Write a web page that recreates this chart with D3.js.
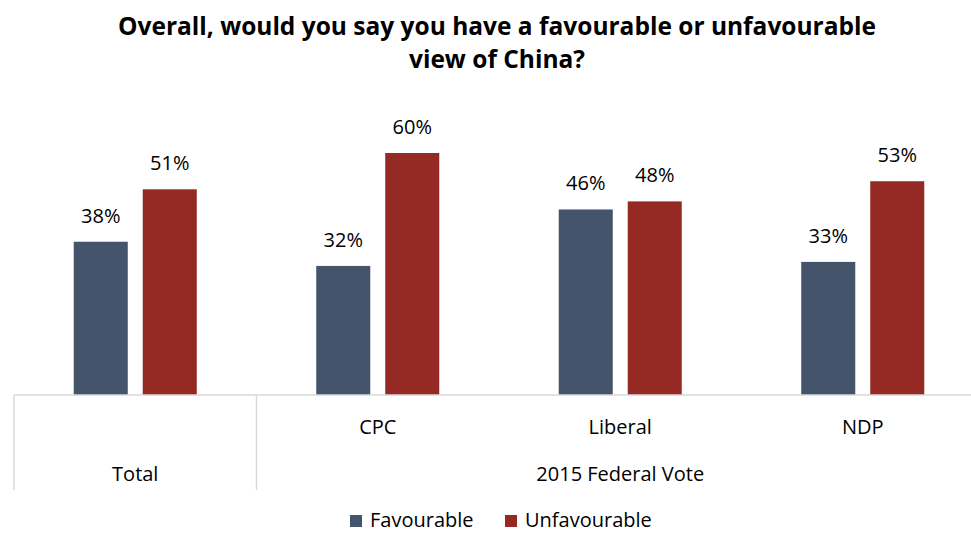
<!DOCTYPE html>
<html>
<head>
<meta charset="utf-8">
<script src="https://cdn.jsdelivr.net/npm/d3@7"></script>
<style>
  html, body { margin: 0; padding: 0; background: #fff; }
  svg { display: block; font-family: "Open Sans", "Noto Sans", sans-serif; }
</style>
</head>
<body>
<svg id="chart" width="971" height="533"></svg>
<script>
// Survey results: favourable vs unfavourable view of China, overall and by 2015 federal vote
const categories = ["Total", "CPC", "Liberal", "NDP"];
const seriesNames = ["Favourable", "Unfavourable"];
const favourable = [38, 32, 46, 33];
const unfavourable = [51, 60, 48, 53];
const groupLabels = [{ label: "Total", from: 0, to: 0 }, { label: "2015 Federal Vote", from: 1, to: 3 }];
const colors = ["#44546a", "#952923"];

const svg = d3.select("#chart");
const W = 971, H = 533;
const left = 14, right = 984, baseY = 395, topY = 153;

const x0 = d3.scaleBand().domain(categories).range([left, right]).paddingInner(0).paddingOuter(0);
const x1 = d3.scaleBand().domain(seriesNames).range([0, x0.bandwidth()]).paddingInner(0.217).paddingOuter(0.866);
const y = d3.scaleLinear().domain([0, 60]).range([baseY, topY]);

// Title
const title = svg.append("text")
  .attr("text-anchor", "middle")
  .attr("font-weight", "bold").attr("font-size", 24.5).attr("fill", "#000");
title.append("tspan").attr("x", 497).attr("y", 35).text("Overall, would you say you have a favourable or unfavourable");
title.append("tspan").attr("x", 497).attr("y", 68).text("view of China?");

// Bars
const rows = categories.map((c, i) => ({ cat: c, values: [favourable[i], unfavourable[i]] }));
const groups = svg.append("g").selectAll("g").data(rows).join("g")
  .attr("transform", d => `translate(${x0(d.cat)},0)`);

const cells = d => d.values.map((v, j) => ({ s: seriesNames[j], v, j }));

groups.selectAll("rect").data(cells)
  .join("rect")
  .attr("x", d => x1(d.s))
  .attr("width", x1.bandwidth())
  .attr("y", d => y(d.v))
  .attr("height", d => baseY - y(d.v))
  .attr("fill", d => colors[d.j]);

groups.selectAll("text.val").data(cells)
  .join("text").attr("class", "val")
  .attr("x", d => x1(d.s) + x1.bandwidth() / 2)
  .attr("y", d => y(d.v) - 19)
  .attr("text-anchor", "middle")
  .attr("font-size", 20).attr("fill", "#000")
  .text(d => d.v + "%");

// Category axis with two-level labels
const axisColor = "#d9d9d9";
const axis = svg.append("g");
axis.append("line").attr("x1", left).attr("x2", W).attr("y1", baseY).attr("y2", baseY)
  .attr("stroke", axisColor).attr("stroke-width", 1.5);

// vertical separators between the outer groups
const sepXs = [x0("Total"), x0("CPC")];
axis.selectAll("line.sep").data(sepXs).join("line").attr("class", "sep")
  .attr("x1", d => d).attr("x2", d => d).attr("y1", baseY).attr("y2", 490)
  .attr("stroke", axisColor).attr("stroke-width", 1.5);

// inner labels (parties only)
axis.selectAll("text.cat").data(categories.slice(1)).join("text").attr("class", "cat")
  .attr("x", d => x0(d) + x0.bandwidth() / 2).attr("y", 434)
  .attr("text-anchor", "middle").attr("font-size", 20).attr("fill", "#000")
  .text(d => d);

// outer labels
axis.selectAll("text.grp").data(groupLabels).join("text").attr("class", "grp")
  .attr("x", d => (x0(categories[d.from]) + x0(categories[d.to]) + x0.bandwidth()) / 2)
  .attr("y", 481)
  .attr("text-anchor", "middle").attr("font-size", 20).attr("fill", "#000")
  .text(d => d.label);

// Legend
const legend = svg.append("g");
const legendItems = [{ name: seriesNames[0], x: 350 }, { name: seriesNames[1], x: 505 }];
const li = legend.selectAll("g").data(legendItems).join("g")
  .attr("transform", d => `translate(${d.x},515)`);
li.append("rect").attr("width", 12).attr("height", 12).attr("fill", (d, i) => colors[i]);
li.append("text").attr("x", 20).attr("y", 12).attr("font-size", 20).attr("fill", "#000")
  .text(d => d.name);
</script>
</body>
</html>
